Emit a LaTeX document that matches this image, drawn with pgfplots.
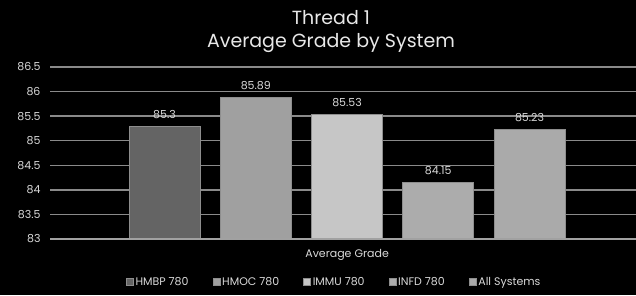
\documentclass[border=0pt]{standalone}
\usepackage{pgfplots}
\pgfplotsset{compat=1.18}
\usepackage{fontspec}
\setmainfont{Poppins}
\definecolor{cA}{HTML}{646464}
\definecolor{cB}{HTML}{A0A0A0}
\definecolor{cC}{HTML}{C6C6C6}
\definecolor{cD}{HTML}{ACACAC}
\definecolor{cE}{HTML}{AAAAAA}
\definecolor{edge}{HTML}{8E8E8E}
\definecolor{gridc}{HTML}{8A8A8A}
\definecolor{txt}{HTML}{D9D9D9}
\begin{document}
\begin{tikzpicture}[x=1bp,y=1bp]
\fill[black] (0,0) rectangle (636,295);
\useasboundingbox (0,0) rectangle (636,295);
\node[text=txt!60!white, font=\fontsize{19bp}{21bp}\selectfont] at (331,277) {Thread 1};
\node[text=txt!60!white, font=\fontsize{19bp}{21bp}\selectfont] at (331,252) {Average Grade by System};
\begin{axis}[
  at={(50bp,56bp)}, anchor=south west,
  scale only axis, width=586bp, height=172bp,
  xmin=-1.255, xmax=5.167, ymin=83, ymax=86.5,
  ytick={83,83.5,84,84.5,85,85.5,86,86.5},
  yticklabels={83,83.5,84,84.5,85,85.5,86,86.5},
  xtick=\empty,
  ymajorgrids, grid style={color=gridc, line width=1.3bp},
  axis line style={draw=none},
  major tick length=0pt,
  yticklabel style={font=\fontsize{11bp}{13bp}\selectfont, text=txt, xshift=-6bp},
  ybar, bar shift=0pt, bar width=71bp,
  nodes near coords={\pgfmathprintnumber[assume math mode=true]{\pgfplotspointmeta}},
  nodes near coords style={font=\fontsize{11bp}{13bp}\selectfont, text=txt, yshift=4bp},
  xlabel={Average Grade},
  xlabel style={at={(axis description cs:0.507,0)}, anchor=center, yshift=-16bp, font=\fontsize{11bp}{13bp}\selectfont, text=txt},
  legend columns=5,
  legend style={at={(axis description cs:0.485,-0.25)}, anchor=center, draw=none, fill=none,
    font=\fontsize{11bp}{13bp}\selectfont, text=txt,
    /tikz/every even column/.append style={column sep=22bp}},
  legend image code/.code={\fill[#1] (0bp,-3.5bp) rectangle (7bp,3.5bp);},
]
\addplot[fill=cA, draw=edge, line width=0.6bp] coordinates {(0,85.3)};
\addlegendentry{HMBP 780}
\addplot[fill=cB, draw=edge, line width=0.6bp] coordinates {(1,85.89)};
\addlegendentry{HMOC 780}
\addplot[fill=cC, draw=edge, line width=0.6bp] coordinates {(2,85.53)};
\addlegendentry{IMMU 780}
\addplot[fill=cD, draw=edge, line width=0.6bp] coordinates {(3,84.15)};
\addlegendentry{INFD 780}
\addplot[fill=cE, draw=edge, line width=0.6bp] coordinates {(4,85.23)};
\addlegendentry{All Systems}
\draw[color=gridc!80!white, line width=1.5bp] (rel axis cs:0,0) -- (rel axis cs:1,0);
\end{axis}
\end{tikzpicture}
\end{document}
